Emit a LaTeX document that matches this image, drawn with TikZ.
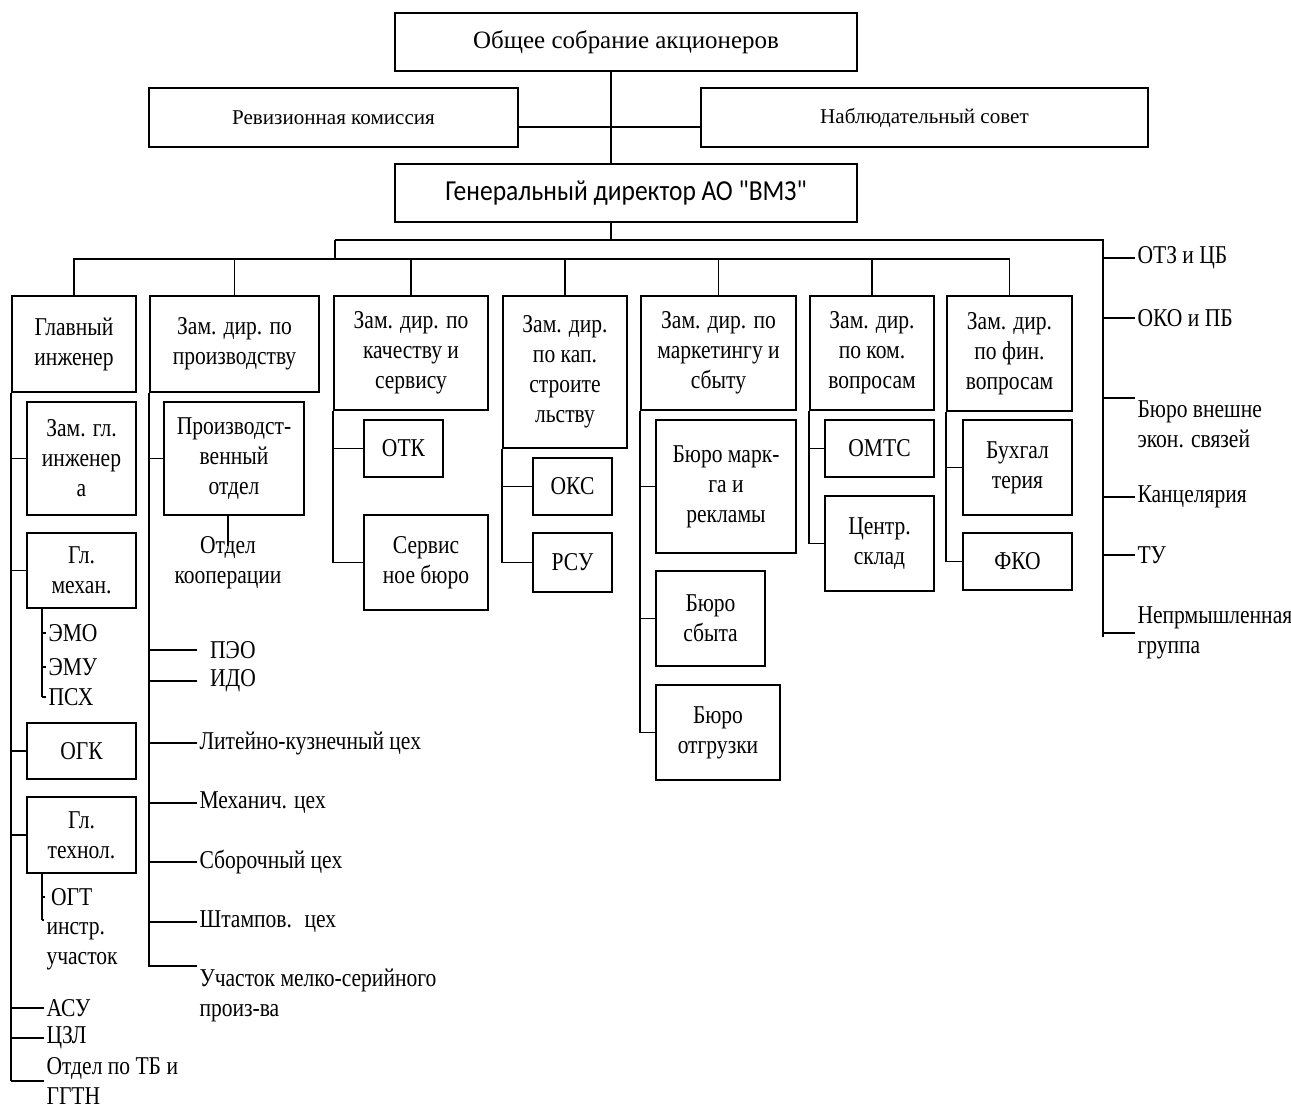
\documentclass[tikz,border=0pt]{standalone}
\usepackage{fontspec}
\setmainfont{Liberation Serif}[FakeStretch=0.84]
\newfontfamily\plainserif{Liberation Serif}
\newfontfamily\ceofont{Carlito}[FakeStretch=0.88]
\usetikzlibrary{positioning}

\begin{document}
\begin{tikzpicture}[x=0.02cm, y=-0.02cm,
    font=\fontsize{14.6}{17.1}\selectfont,
    line width=0.9pt,
    box/.style 2 args={draw, align=center, inner sep=2pt,
      minimum width=#1*0.02cm, minimum height=#2*0.02cm},
    item/.style={anchor=west, align=left, inner sep=1pt}]

  \path [use as bounding box, fill=white] (0,0) rectangle (1291,1110);

  \node [box={462}{58}, font=\plainserif\fontsize{14.2}{17}\selectfont]
        (meeting) at (626,42) {Общее собрание акционеров};
  \node [box={369}{59}, font=\plainserif\fontsize{12}{14}\selectfont]
        (audit) at (333.5,117.5) {Ревизионная комиссия};
  \node [box={447}{59}, font=\plainserif\fontsize{12}{14}\selectfont]
        (board) at (924.5,117.5) {Наблюдательный совет};
  \node [box={462}{58}, font=\ceofont\fontsize{16.5}{19}\selectfont]
        (ceo) at (626,193) {Генеральный директор АО "ВМЗ"};

  \coordinate (hub) at (611,127);
  \coordinate (busA) at (335,240);
  \coordinate (busB) at (335,259);
  \coordinate (side) at (1103,240);

  \draw (meeting.south -| hub) -- (ceo.north -| hub);
  \draw (audit.east |- hub) -- (board.west |- hub);
  \draw (ceo.south -| hub) -- (hub |- busA);
  \draw (busA) -- (busB);

  \node [box={124}{96}]  (chiefEng) at (74,344)      {Главный\\инженер};
  \node [box={169}{96}]  (prodDir)  at (234.5,344)   {Зам. дир. по\\производству};
  \node [box={154}{114}] (qualDir)  at (411,353)     {Зам. дир. по\\качеству и\\сервису};
  \node [box={124}{152}] (buildDir) at (565,372)     {Зам. дир.\\по кап.\\строите\\льству};
  \node [box={155}{114}] (mktDir)   at (718.5,353)   {Зам. дир. по\\маркетингу и\\сбыту};
  \node [box={124}{114}] (comDir)   at (872,353)     {Зам. дир.\\по ком.\\вопросам};
  \node [box={125}{115}] (finDir)   at (1009.5,353.5) {Зам. дир.\\по фин.\\вопросам};

  \draw (chiefEng.north) |- (busB) -| (finDir.north);
  \foreach \n in {prodDir,qualDir,buildDir,mktDir,comDir}
    \draw (\n.north) -- (\n.north |- busB);

  \node [box={109}{113}] (deputyEng) at (81.5,458.5) {Зам. гл.\\инженер\\а};
  \node [box={109}{75}]  (mech)      at (81.5,570.5) {Гл.\\механ.};
  \node [box={109}{56}]  (ogk)       at (81.5,751)   {ОГК};
  \node [box={109}{76}]  (tech)      at (81.5,835)   {Гл.\\технол.};
  \node [item] (emo) at (46,633) {ЭМО};
  \node [item] (emu) at (46,667) {ЭМУ};
  \node [item] (psh) at (46,697) {ПСХ};
  \node [item, inner xsep=3pt] (ogt) at (45,897) {ОГТ};
  \node [item, anchor=north west] (tool) at (44,920) {инстр.\\участок};
  \node [item] (asu) at (44,1008) {АСУ};
  \node [item] (czl) at (44,1038) {ЦЗЛ};
  \node [item] (safety) at (44,1081) {Отдел по ТБ и\\ГГТН};

  \draw (chiefEng.south west) -- (chiefEng.south west |- safety.west);
  \foreach \n in {deputyEng,mech,ogk,tech,asu,czl,safety}
    \draw (chiefEng.south west |- \n.west) -- (\n.west);
  \draw (mech.south west) ++(16,0) coordinate (mechLine) -- (mechLine |- psh.west);
  \foreach \n in {emo,emu,psh}
    \draw (mechLine |- \n.west) -- (\n.west);
  \draw (tech.south west) ++(16,0) coordinate (techLine) -- (techLine |- tool.north west);
  \draw (techLine |- ogt.west) -- (ogt.west);
  \draw (techLine |- tool.north west) -- (tool.north west);

  \node [box={140}{113}] (prodDept) at (234,458.5) {Производст-\\венный\\отдел};
  \node [align=center, inner sep=1pt] (coop) at (228,563) {Отдел\\кооперации};
  \node [item, inner xsep=7pt] (peo) at (197,650) {ПЭО};
  \node [item, inner xsep=7pt] (ido) at (197,681) {ИДО};
  \node [item] (foundry)  at (197,743) {Литейно-кузнечный цех};
  \node [item] (machShop) at (197,803) {Механич. цех};
  \node [item] (assembly) at (197,862) {Сборочный цех};
  \node [item] (stamp)    at (197,922) {Штампов.~ цех};
  \node [item, anchor=north west] (smallLot) at (197,966)
        {Участок мелко-серийного\\произ-ва};

  \draw (coop.north |- prodDept.south) -- (coop.north) -- ++(0,12);
  \draw (prodDir.south west) -- (prodDir.south west |- smallLot.north west)
        -- (smallLot.north west);
  \foreach \n in {prodDept,peo,ido,foundry,machShop,assembly,stamp}
    \draw (prodDir.south west |- \n.west) -- (\n.west);

  \node [box={79}{57}]  (otk)     at (403.5,448.5) {ОТК};
  \node [box={124}{95}] (service) at (426,562.5)   {Сервис\\ное бюро};
  \draw (qualDir.south west) |- (service.west);
  \draw (qualDir.south west |- otk.west) -- (otk.west);

  \node [box={79}{57}] (oks) at (572.5,486.5) {ОКС};
  \node [box={79}{59}] (rsu) at (572.5,562.5) {РСУ};
  \draw (buildDir.south west) |- (rsu.west);
  \draw (buildDir.south west |- oks.west) -- (oks.west);

  \node [box={140}{133}] (adv)   at (726,486.5) {Бюро марк-\\га и\\рекламы};
  \node [box={109}{95}]  (sales) at (710.5,618.5) {Бюро\\сбыта};
  \node [box={124}{95}]  (ship)  at (718,732.5) {Бюро\\отгрузки};
  \draw (mktDir.south west) |- (ship.west);
  \foreach \n in {adv,sales}
    \draw (mktDir.south west |- \n.west) -- (\n.west);

  \node [box={109}{57}] (omts)  at (879.5,448.5) {ОМТС};
  \node [box={109}{95}] (store) at (879.5,543.5) {Центр.\\склад};
  \draw (comDir.south west) |- (store.west);
  \draw (comDir.south west |- omts.west) -- (omts.west);

  \node [box={109}{95}] (acc) at (1017.5,467.5) {Бухгал\\терия};
  \node [box={109}{57}] (fko) at (1017.5,561.5) {ФКО};
  \draw (finDir.south west) |- (fko.west);
  \draw (finDir.south west |- acc.west) -- (acc.west);

  \node [item] (otz) at (1135,258) {ОТЗ и ЦБ};
  \node [item] (oko) at (1135,318) {ОКО и ПБ};
  \node [item, anchor=north west] (ext) at (1135,398) {Бюро внешне\\экон. связей};
  \node [item] (office) at (1135,497) {Канцелярия};
  \node [item] (tu)     at (1135,555) {ТУ};
  \node [item] (nonInd) at (1135,633) {Непрмышленная\\группа};

  \draw (busA) -- (side) -- (side |- nonInd.west) -- ++(0,4);
  \foreach \n in {otz,oko,office,tu,nonInd}
    \draw (side |- \n.west) -- (\n.west);
  \draw (side |- ext.north west) -- (ext.north west);

\end{tikzpicture}
\end{document}
